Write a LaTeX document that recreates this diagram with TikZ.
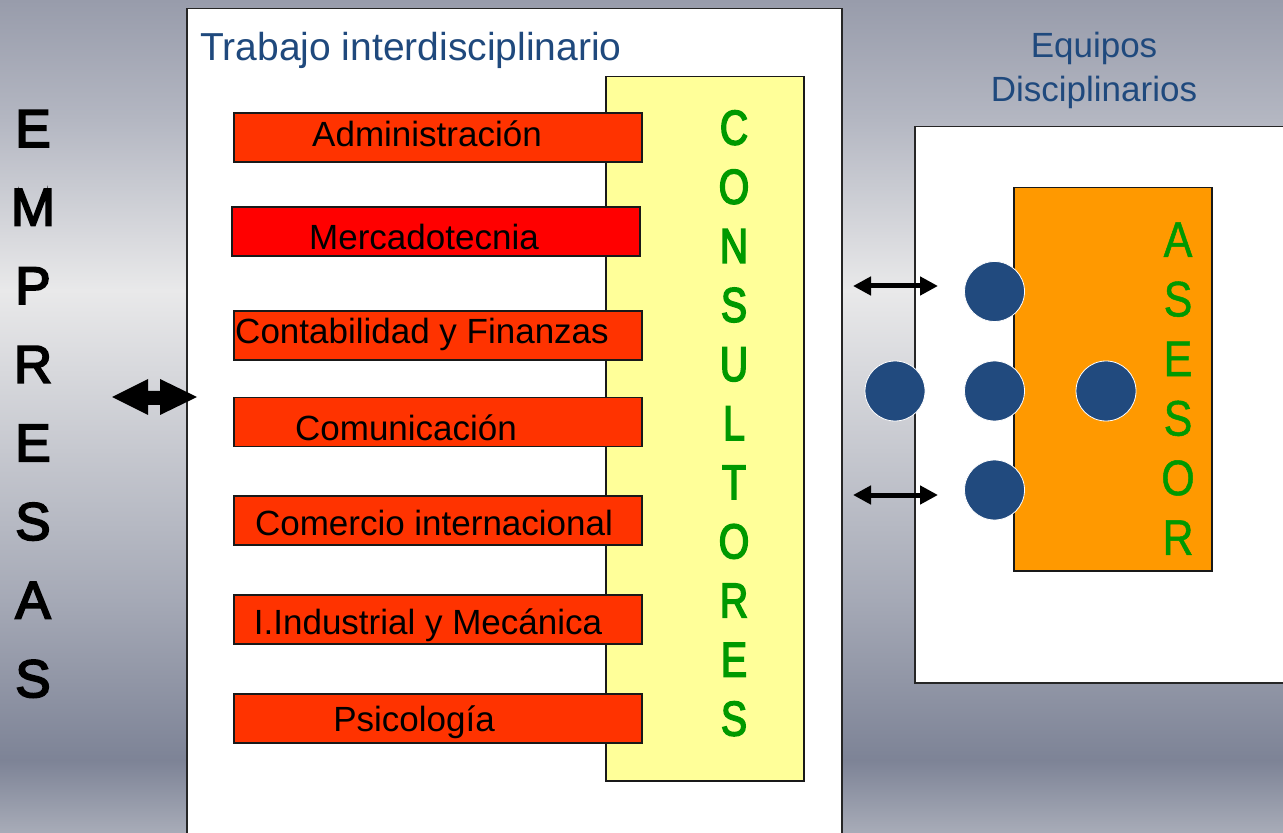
\documentclass[tikz,border=0pt]{standalone}
\usepackage{fontspec}
\setmainfont{Liberation Sans}
\newfontfamily\empfont{Liberation Sans}[FakeBold=3.5]
\newfontfamily\consfont{Liberation Sans}[FakeStretch=0.8,FakeBold=3]
\newfontfamily\asesfont{Liberation Sans}[FakeStretch=0.86,FakeBold=1]
\usetikzlibrary{arrows.meta}
\definecolor{titleblue}{HTML}{1F497D}
\definecolor{dotblue}{HTML}{214A7E}
\definecolor{redfill}{HTML}{FF3300}
\definecolor{purered}{HTML}{FF0000}
\definecolor{yellowfill}{HTML}{FFFF99}
\definecolor{orangefill}{HTML}{FF9900}
\definecolor{lettergreen}{HTML}{009900}
\definecolor{bgA}{HTML}{989CAB}
\definecolor{bgB}{HTML}{B4B7C2}
\definecolor{bgC}{HTML}{E9E9EA}
\definecolor{bgD}{HTML}{C6C8CF}
\definecolor{bgE}{HTML}{A5A9B6}
\definecolor{bgF}{HTML}{7D8396}
\definecolor{bgG}{HTML}{A8ACB8}
\begin{document}
\begin{tikzpicture}[x=0.5pt,y=-0.5pt,
  panel/.style={draw=black!85, line width=0.75pt, fill=white, anchor=north west, inner sep=0pt},
  disc/.style={draw=black!90, line width=0.75pt, fill=redfill, minimum width=204pt, minimum height=24.5pt, inner sep=0pt},
  disclabel/.style={anchor=base, font=\fontsize{17.5}{20}\selectfont, text=black, inner sep=0pt},
  column/.style={align=center, text=lettergreen, inner sep=0pt, anchor=north},
  dot/.style={circle, fill=dotblue, draw=white, line width=0.4pt, minimum size=30pt, inner sep=0pt},
  thinarrow/.style={line width=2.5pt, {Triangle[length=9pt,width=9pt]}-{Triangle[length=9pt,width=9pt]}},
  heading/.style={text=titleblue, inner sep=0pt}
]
\useasboundingbox (0,0) rectangle (1283,833);
\clip (0,0) rectangle (1283,833);
% background gradient
\shade[top color=bgA, bottom color=bgB] (0,0) rectangle (1283,121);
\shade[top color=bgB, bottom color=bgC] (0,120) rectangle (1283,291);
\shade[top color=bgC, bottom color=bgD] (0,290) rectangle (1283,451);
\shade[top color=bgD, bottom color=bgE] (0,450) rectangle (1283,601);
\shade[top color=bgE, bottom color=bgF] (0,600) rectangle (1283,761);
\shade[top color=bgF, bottom color=bgG] (0,760) rectangle (1283,833);

% EMPRESAS column
\node[inner sep=0pt, anchor=north, align=center, font=\empfont\fontsize{26.5}{39.3}\selectfont] (emp) at (33,110)
  {E\\M\\P\\R\\E\\S\\A\\S};

% left panel
\node[panel, minimum width=327.5pt, minimum height=420pt] (inter) at (186,8) {};
\node[heading, anchor=base west, font=\fontsize{19.5}{22}\selectfont] (intertitle) at (200,61) {Trabajo interdisciplinario};

% consultores box
\node[draw=black!90, line width=0.75pt, fill=yellowfill, anchor=north west, minimum width=99pt, minimum height=352pt, inner sep=0pt] (cons) at (605,76) {};
\node[column, font=\consfont\fontsize{24.5}{29.55}\selectfont] (consl) at (734,110)
  {C\\O\\N\\S\\U\\L\\T\\O\\R\\E\\S};

% discipline boxes
\node[disc] (adm) at (438,137.5) {};
\node[disc, fill=purered] (mer) at (436,231.5) {};
\node[disc] (con) at (438,335.5) {};
\node[disc] (com) at (438,422) {};
\node[disc] (cin) at (438,520.5) {};
\node[disc] (ind) at (438,619.5) {};
\node[disc] (psi) at (438,718.5) {};
\node[disclabel] (admt) at (427,146.5) {Administración};
\node[disclabel] (mert) at (424,249.5) {Mercadotecnia};
\node[disclabel] (cont) at (422,343.5) {Contabilidad y Finanzas};
\node[disclabel] (comt) at (406,440.5) {Comunicación};
\node[disclabel] (cint) at (434,535.5) {Comercio internacional};
\node[disclabel] (indt) at (428,634.5) {I.Industrial y Mecánica};
\node[disclabel] (psit) at (414,731.5) {Psicología};

% big double arrow between EMPRESAS and the panel
\coordinate (bigL) at (112,397);
\coordinate (bigR) at (197,397);
\fill[black] (bigL) -- (148,379) -- (148,391) -- (160,391) -- (160,379) -- (bigR)
  -- (160,415) -- (160,405) -- (148,405) -- (148,415) -- cycle;

% right heading
\node[heading, align=center, font=\fontsize{17.5}{22}\selectfont, anchor=north] (eqt) at (1094,32) {Equipos\\Disciplinarios};

% right panel
\node[panel, minimum width=193pt, minimum height=278pt] (eq) at (914,126) {};
\node[draw=black!90, line width=0.75pt, fill=orangefill, anchor=north west, minimum width=99pt, minimum height=191.5pt, inner sep=0pt] (ases) at (1013,187) {};
\node[column, font=\asesfont\fontsize{25}{29.8}\selectfont] (asesl) at (1178,222) {A\\S\\E\\S\\O\\R};

% dots
\node[dot] (d1) at (994.5,291.5) {};
\node[dot] (d2) at (895,391) {};
\node[dot] (d3) at (994.5,391) {};
\node[dot] (d4) at (1106,391) {};
\node[dot] (d5) at (994.5,490) {};

% small arrows
\coordinate (a1l) at (853,286);
\coordinate (a1r) at (938,286);
\coordinate (a2l) at (853,495);
\coordinate (a2r) at (938,495);
\draw[thinarrow] (a1l) -- (a1r);
\draw[thinarrow] (a2l) -- (a2r);
\end{tikzpicture}
\end{document}
